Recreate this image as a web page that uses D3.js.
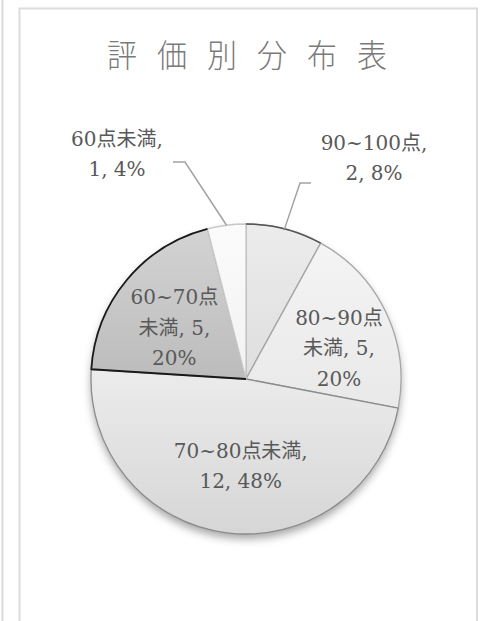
<!DOCTYPE html>
<html><head><meta charset="utf-8">
<script src="https://cdn.jsdelivr.net/npm/d3@7"></script>
<style>
html,body{margin:0;padding:0;background:#fff;}
svg{display:block;}
</style></head>
<body>
<svg id="c" width="481" height="621"></svg>
<script>
// ---- data ----
const title = "評価別分布表";
const categories = ["90~100点", "80~90点未満", "70~80点未満", "60~70点未満", "60点未満"];
const counts = [2, 5, 12, 5, 1];
const percents = ["8%", "20%", "48%", "20%", "4%"];
// label line breaks (text only)
const labelLines = [
  ["90~100点,", "2, 8%"],
  ["80~90点", "未満, 5,", "20%"],
  ["70~80点未満,", "12, 48%"],
  ["60~70点", "未満, 5,", "20%"],
  ["60点未満,", "1, 4%"]
];

// ---- layout ----
const W = 481, H = 621;
const cx = 246, cy = 379, R = 155;
const fills = [
  ["#ececec", "#dedede"],
  ["#f4f4f4", "#e9e9e9"],
  ["#ececec", "#d6d6d6"],
  ["#d3d3d3", "#bcbcbc"],
  ["#fbfbfb", "#f2f2f2"]
];
const strokes = ["#9a9a9a", "#a6a6a6", "#8a8a8a", "#b0b0b0", "#c8c8c8"];
const labelPlace = [
  {abs: [374, 158]},
  {rf: 0.62, dx: 6, dy: 10},
  {rf: 0.58, dx: 6, dy: -2},
  {rf: 0.6, dx: 0, dy: 8},
  {abs: [117, 154]}
];
const leaders = {
  0: [[300, 183], [311, 183]],
  4: [[185, 162], [173, 162]]
};

const svg = d3.select("#c");
const defs = svg.append("defs");

// frame
svg.append("line").attr("x1", 2.5).attr("x2", 2.5).attr("y1", 0).attr("y2", H)
  .attr("stroke", "#dcdcdc").attr("stroke-width", 2);
svg.append("rect").attr("x", 19.5).attr("y", 8.5).attr("width", 457.5).attr("height", H + 20)
  .attr("fill", "#fff").attr("stroke", "#dcdcdc").attr("stroke-width", 2);

// title, one glyph per step
svg.append("text")
  .attr("text-anchor", "middle")
  .attr("font-family", "'Noto Sans CJK JP'")
  .attr("font-weight", 300)
  .attr("font-size", 30)
  .attr("fill", "#7a7a7a")
  .attr("transform", "scale(1,1.06)")
  .selectAll("tspan").data(Array.from(title)).join("tspan")
  .attr("x", (d, i) => 122 + i * 50)
  .attr("y", 63)
  .text(d => d);

// gradients
fills.forEach((f, i) => {
  const g = defs.append("linearGradient").attr("id", "g" + i)
    .attr("x1", 0).attr("y1", 0).attr("x2", 0).attr("y2", 1);
  g.append("stop").attr("offset", "0%").attr("stop-color", f[0]);
  g.append("stop").attr("offset", "100%").attr("stop-color", f[1]);
});
const flt = defs.append("filter").attr("id", "sh").attr("x", "-20%").attr("y", "-20%").attr("width", "140%").attr("height", "140%");
flt.append("feDropShadow").attr("dx", 0).attr("dy", 5).attr("stdDeviation", 4)
  .attr("flood-color", "#000").attr("flood-opacity", 0.35);

const pie = d3.pie().sort(null).value(d => d);
const arcs = pie(counts);
const arc = d3.arc().innerRadius(0).outerRadius(R);

const g = svg.append("g").attr("transform", `translate(${cx},${cy})`);
g.append("circle").attr("r", R).attr("fill", "#ddd").attr("filter", "url(#sh)");

g.selectAll("path.slice").data(arcs).join("path")
  .attr("class", "slice")
  .attr("d", arc)
  .attr("fill", (d, i) => `url(#g${i})`)
  .attr("stroke", (d, i) => strokes[i])
  .attr("stroke-width", 1.3)
  .attr("stroke-linejoin", "round");

// black edge of the 60~70 slice: lower radius and outer arc
{
  const d = arcs[3];
  const p = d3.path();
  p.moveTo(0, 0);
  p.lineTo(R * Math.sin(d.startAngle), -R * Math.cos(d.startAngle));
  p.arc(0, 0, R, d.startAngle - Math.PI / 2, d.endAngle - Math.PI / 2);
  g.append("path").attr("d", p.toString()).attr("fill", "none")
    .attr("stroke", "#1a1a1a").attr("stroke-width", 1.8).attr("stroke-linejoin", "round");
}
g.append("path").attr("d", d3.arc().innerRadius(R).outerRadius(R)(arcs[0]))
  .attr("fill", "none").attr("stroke", "#555").attr("stroke-width", 1.5);

// leader lines
const mid = d => (d.startAngle + d.endAngle) / 2;
Object.keys(leaders).forEach(k => {
  const d = arcs[+k];
  const a = mid(d);
  const p0 = [cx + R * Math.sin(a), cy - R * Math.cos(a)];
  const pts = [p0].concat(leaders[k]);
  svg.append("path").attr("d", d3.line()(pts))
    .attr("fill", "none").attr("stroke", "#a3a3a3").attr("stroke-width", 1.5);
});

// labels
const lineH = 30.5;
arcs.forEach((d, i) => {
  const lp = labelPlace[i];
  let x, y;
  if (lp.abs) { [x, y] = lp.abs; }
  else {
    const a = mid(d);
    x = cx + R * lp.rf * Math.sin(a) + lp.dx;
    y = cy - R * lp.rf * Math.cos(a) + lp.dy;
  }
  const lines = labelLines[i];
  const t = svg.append("text")
    .attr("text-anchor", "middle")
    .attr("font-family", "'DejaVu Serif','Noto Sans CJK JP'")
    .attr("font-size", 20)
    .attr("fill", "#595959");
  const y0 = y - (lines.length - 1) * lineH / 2 + 7;
  lines.forEach((s, j) => {
    t.append("tspan").attr("x", x).attr("y", y0 + j * lineH).text(s);
  });
});
</script>
</body></html>
